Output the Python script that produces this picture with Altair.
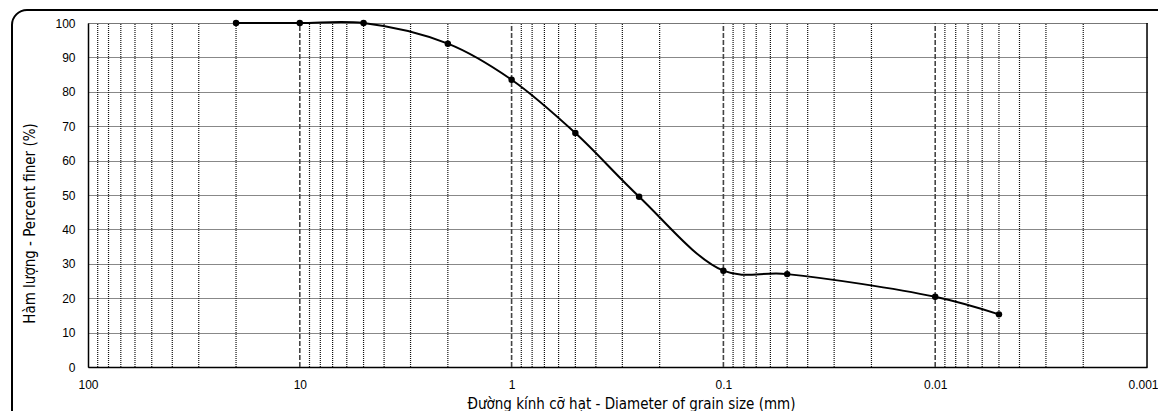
import altair as alt
import pandas as pd

# Data
diameters = [20, 10, 5, 2, 1, 0.5, 0.25, 0.1, 0.05, 0.01, 0.005]
percent = [100, 100, 100, 94, 83.5, 68, 49.5, 28, 27, 20.4, 15.3]

major_ticks = [100, 10, 1, 0.1, 0.01, 0.001]
minor_grid = [m * 10.0 ** k for k in range(-3, 2) for m in range(2, 10)]
y_ticks = list(range(0, 101, 10))

df = pd.DataFrame({"d": diameters, "p": percent})
minor_df = pd.DataFrame({"g": minor_grid})
major_df = pd.DataFrame({"g": major_ticks[1:-1]})

W, H = 1059, 344

xscale = alt.Scale(type="log", domain=[0.001, 100], reverse=True, nice=False)
yscale = alt.Scale(domain=[0, 100], nice=False)

FONT = "Liberation Sans"
TFONT = "Liberation Sans Narrow, DejaVu Sans Condensed, Roboto Condensed, Liberation Sans"

xaxis = alt.Axis(
    values=major_ticks,
    format="~g",
    grid=False,
    ticks=False,
    domainColor="black",
    domainWidth=1.5,
    labelFont=FONT,
    labelFontSize=12,
    labelColor="black",
    labelPadding=12,
    labelFlush=False,
    labelOverlap=False,
    labelOffset=alt.condition("datum.value < 0.002", alt.value(-4), alt.value(0)),
    title="Đường kính cỡ hạt - Diameter of grain size (mm)",
    titleFont=TFONT,
    titleFontSize=15,
    titleFontWeight="normal",
    titleColor="black",
    titleX=543,
    titleY=36,
    titleBaseline="middle",
    titleAlign="center",
)

yaxis = alt.Axis(
    values=y_ticks,
    grid=True,
    gridColor="#111111",
    gridDash=[1, 1],
    gridWidth=1.2,
    ticks=False,
    domainColor="black",
    domainWidth=1.5,
    labelFont=FONT,
    labelFontSize=12,
    labelColor="black",
    labelPadding=13,
    labelOverlap=False,
    title="Hàm lượng  - Percent finer (%)",
    titleFont=TFONT,
    titleFontSize=15,
    titleFontWeight="normal",
    titleColor="black",
    titleAngle=-90,
    titleX=-59,
    titleY=200,
    titleBaseline="middle",
    titleAlign="center",
)

minor = alt.Chart(minor_df).mark_rule(
    color="#111111", strokeWidth=1.2, strokeDash=[1, 1]
).encode(
    x=alt.X("g:Q", scale=xscale, axis=xaxis),
    y=alt.datum(0, scale=yscale, axis=yaxis),
    y2=alt.datum(100),
)

major = alt.Chart(major_df).mark_rule(
    color="#444444", strokeWidth=1.6, strokeDash=[5, 2]
).encode(
    x=alt.X("g:Q", scale=xscale, axis=xaxis),
    y=alt.datum(0, scale=yscale, axis=yaxis),
    y2=alt.datum(100),
)

right_edge = alt.Chart(pd.DataFrame({"g": [0.001]})).mark_rule(
    color="black", strokeWidth=1.5
).encode(
    x=alt.X("g:Q", scale=xscale, axis=xaxis),
    y=alt.datum(0, scale=yscale, axis=yaxis),
    y2=alt.datum(100),
)

base = alt.Chart(df).encode(
    x=alt.X("d:Q", scale=xscale, axis=xaxis),
    y=alt.Y("p:Q", scale=yscale, axis=yaxis),
)

line = base.mark_line(color="black", strokeWidth=2, interpolate="catmull-rom")
points = base.mark_circle(color="black", size=42, opacity=1)

frame = alt.Chart(pd.DataFrame({"a": [0]})).mark_rect(
    fillOpacity=0, stroke="black", strokeWidth=2, cornerRadius=15
).encode(
    x=alt.value(-76),
    x2=alt.value(1095),
    y=alt.value(-13),
    y2=alt.value(410),
)

chart = alt.layer(minor, major, line, points, right_edge, frame).properties(
    width=W,
    height=H,
    autosize=alt.AutoSizeParams(type="none"),
    padding={"left": 80, "top": 15, "right": 11, "bottom": 44},
).configure_view(stroke=None).configure(background="white")

chart.save("out.html", embed_options={"renderer": "svg", "actions": False})
